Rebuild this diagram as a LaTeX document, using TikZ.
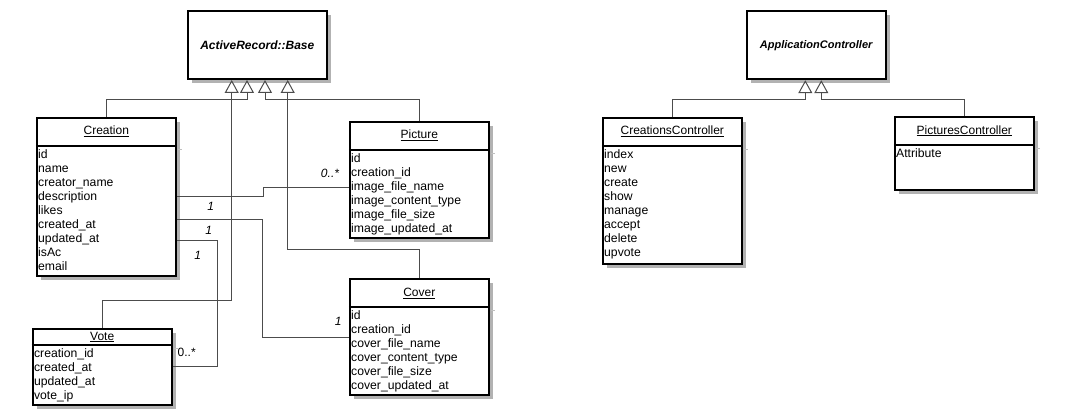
\documentclass[tikz,border=0pt]{standalone}
\usepackage{fontspec}
\setmainfont{Liberation Sans}
\usetikzlibrary{shadows, positioning, arrows.meta}
\tikzset{
    class box/.style = {draw, line width=2pt, fill=white, minimum width=139pt, inner sep=0pt,
        drop shadow={shadow xshift=4pt, shadow yshift=-4pt, fill=black!30, opacity=1}},
    class title/.style = {anchor=base, inner sep=0pt, font=\fontsize{12}{14}\selectfont},
    abstract title/.style = {inner sep=0pt, font=\bfseries\itshape\fontsize{12}{14}\selectfont},
    attrs/.style = {anchor=north west, align=left, inner xsep=2.2pt, inner ysep=0pt, font=\fontsize{12.2}{14}\selectfont},
    divider/.style = {draw, line width=2pt},
    stub/.style = {draw, black!25, line width=1pt},
    inherit/.style = {draw, black!70, line width=1pt, -{Triangle[open, length=13pt, width=14pt]}},
    assoc/.style = {draw, black!70, line width=1pt},
    mult/.style = {inner sep=0pt, font=\itshape\fontsize{12}{14}\selectfont},
}

\begin{document}
\begin{tikzpicture}[x=1pt, y=-1pt]
    \useasboundingbox (0,0) rectangle (1077,420);

    % models
    \node[class box, minimum height=68] (base) at (257.3,45) {};
    \node[abstract title] at (base.center) {ActiveRecord::Base};

    \node[class box, minimum height=158] (creation) at (106.3,196.7) {};
    \node[class title] at ([yshift=-18.3pt]creation.north) {\underline{Creation}};
    \draw[divider] ([yshift=-29pt]creation.north west) -- ([yshift=-29pt]creation.north east);
    \draw[stub] ([xshift=1pt, yshift=-33pt]creation.north east) -- ++(4,0);
    \node[attrs] at ([yshift=-32.2pt]creation.north west)
        {\strut id\\name\\creator\_name\\description\\likes\\created\_at\\updated\_at\\isAc\\email};

    \node[class box, minimum height=116.3] (picture) at (419.3,179.85) {};
    \node[class title] at ([yshift=-18.3pt]picture.north) {\underline{Picture}};
    \draw[divider] ([yshift=-29pt]picture.north west) -- ([yshift=-29pt]picture.north east);
    \draw[stub] ([xshift=1pt, yshift=-33pt]picture.north east) -- ++(4,0);
    \node[attrs] at ([yshift=-32.2pt]picture.north west)
        {\strut id\\creation\_id\\image\_file\_name\\image\_content\_type\\image\_file\_size\\image\_updated\_at};

    \node[class box, minimum height=115.7] (cover) at (419.3,337.15) {};
    \node[class title] at ([yshift=-18pt]cover.north) {\underline{Cover}};
    \draw[divider] ([yshift=-28.4pt]cover.north west) -- ([yshift=-28.4pt]cover.north east);
    \draw[stub] ([xshift=1pt, yshift=-32.4pt]cover.north east) -- ++(4,0);
    \node[attrs] at ([yshift=-31.6pt]cover.north west)
        {\strut id\\creation\_id\\cover\_file\_name\\cover\_content\_type\\cover\_file\_size\\cover\_updated\_at};

    \node[class box, minimum height=76] (vote) at (102.2,366.7) {};
    \node[class title] at ([yshift=-12.3pt]vote.north) {\underline{Vote}};
    \draw[divider] ([yshift=-17pt]vote.north west) -- ([yshift=-17pt]vote.north east);
    \draw[stub] ([xshift=1pt, yshift=-21pt]vote.north east) -- ++(4,0);
    \node[attrs] at ([yshift=-20.2pt]vote.north west)
        {\strut creation\_id\\created\_at\\updated\_at\\vote\_ip};

    % controllers
    \node[class box, minimum height=68] (app) at (816.2,45.2) {};
    \node[abstract title, font=\bfseries\itshape\fontsize{11}{13}\selectfont] at (app.center) {ApplicationController};

    \node[class box, minimum height=146.6] (creations) at (672.3,191) {};
    \node[class title] at ([yshift=-18.3pt]creations.north) {\underline{CreationsController}};
    \draw[divider] ([yshift=-29pt]creations.north west) -- ([yshift=-29pt]creations.north east);
    \draw[stub] ([xshift=1pt, yshift=-33pt]creations.north east) -- ++(4,0);
    \node[attrs] at ([yshift=-32.2pt]creations.north west)
        {\strut index\\new\\create\\show\\manage\\accept\\delete\\upvote};

    \node[class box, minimum height=73.3] (pictures) at (964.3,153.35) {};
    \node[class title] at ([yshift=-18.3pt]pictures.north) {\underline{PicturesController}};
    \draw[divider] ([yshift=-29pt]pictures.north west) -- ([yshift=-29pt]pictures.north east);
    \draw[stub] ([xshift=1pt, yshift=-33pt]pictures.north east) -- ++(4,0);
    \node[attrs] at ([yshift=-32.2pt]pictures.north west) {\strut Attribute};

    % generalisation
    \draw[inherit] (creation.north) |- ([xshift=-10.3pt, yshift=-19.7pt]base.south) -- ([xshift=-10.3pt]base.south);
    \draw[inherit] (picture.north) |- ([xshift=7.7pt, yshift=-19.7pt]base.south) -- ([xshift=7.7pt]base.south);
    \draw[inherit] (vote.north) |- ([xshift=-25.6pt, yshift=-220.3pt]base.south) -- ([xshift=-25.6pt]base.south);
    \draw[inherit] (cover.north) |- ([xshift=30.4pt, yshift=-169pt]base.south) -- ([xshift=30.4pt]base.south);
    \draw[inherit] (creations.north) |- ([xshift=-10.9pt, yshift=-19.7pt]app.south) -- ([xshift=-10.9pt]app.south);
    \draw[inherit] (pictures.north) |- ([xshift=5.1pt, yshift=-19.7pt]app.south) -- ([xshift=5.1pt]app.south);

    % associations
    \draw[assoc] (creation.east) -- ++(86.6,0) |- ([yshift=-7.9pt]picture.west);
    \draw[assoc] ([yshift=-22.3pt]creation.east) -- ++(85.6,0) |- (cover.west);
    \draw[assoc] ([yshift=-44pt]creation.east) -- ++(40.6,0) |- (vote.east);

    \node[mult] (m1) at (210.7,206.7) {1};
    \node[mult] (m2) at (330,173.7) {0..*};
    \node[mult] (m3) at (208.7,230) {1};
    \node[mult] (m4) at (338.3,321) {1};
    \node[mult] (m5) at (197.7,255.7) {1};
    \node[mult, font=\fontsize{12}{14}\selectfont] (m6) at (186.7,352.7) {0..*};
\end{tikzpicture}
\end{document}
